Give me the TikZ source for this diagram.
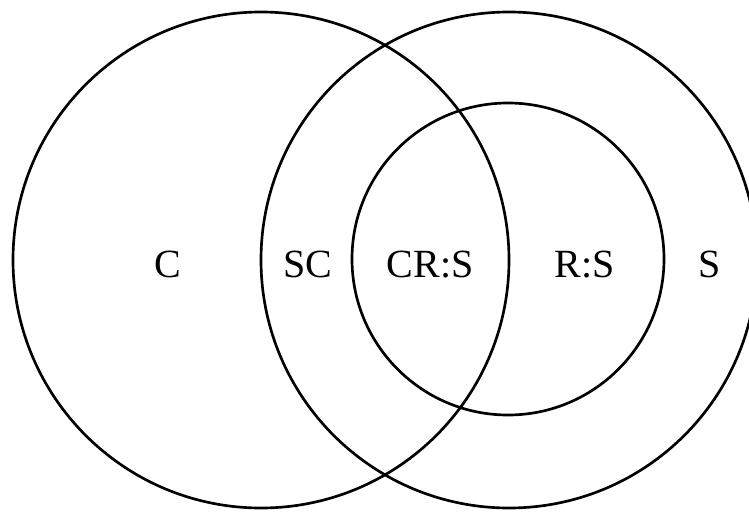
\documentclass[tikz,border=0pt]{standalone}
\usepackage{fontspec}
\setmainfont{Liberation Serif}
\begin{document}
\begin{tikzpicture}[x=0.75pt,y=0.75pt,
  ring/.style={draw=black,line width=2pt},
  lbl/.style={anchor=base,inner sep=0pt,font=\fontsize{30}{36}\selectfont}]
\useasboundingbox (0,0) rectangle (749,512);
\clip (0,0) rectangle (749,512);
\fill[white] (0,0) rectangle (749,512);
\draw[ring] (261,252) circle (248);
\draw[ring] (509,252) circle (248);
\draw[ring] (508,253) circle (156);
\node[lbl] (c) at (168,235) {C};
\node[lbl] (sc) at (308,235) {SC};
\node[lbl] (crs) at (430,235) {CR:S};
\node[lbl] (rs) at (585,235) {R:S};
\node[lbl] (s) at (710,235) {S};
\end{tikzpicture}
\end{document}
